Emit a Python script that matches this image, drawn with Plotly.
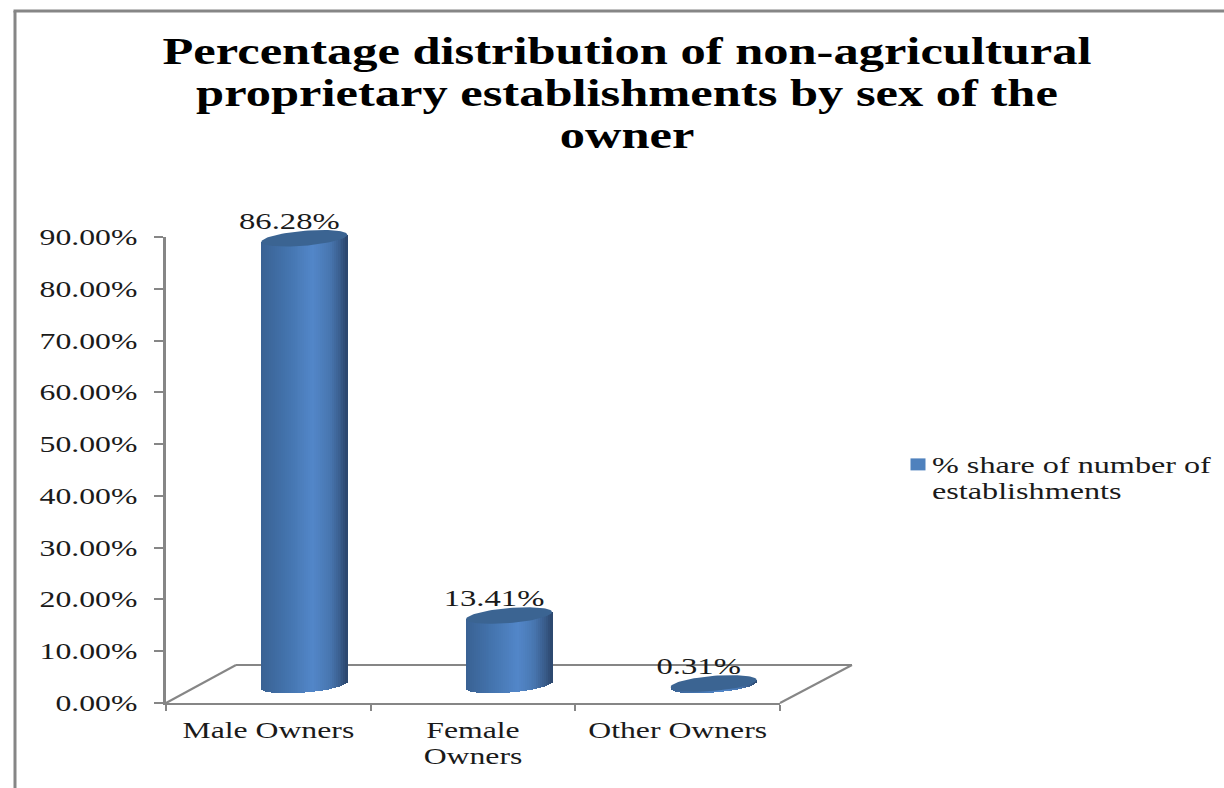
import numpy as np
import plotly.graph_objects as go

categories = ["Male Owners", "Female<br>Owners", "Other Owners"]
values = [86.28, 13.41, 0.31]
value_labels = ["86.28%", "13.41%", "0.31%"]
series_name = "% share of number of<br>establishments"
title_text = ("Percentage distribution of non-agricultural<br>"
              "proprietary establishments by sex of the<br>owner")

W, H = 1224, 788
FONT = "Liberation Serif"
GREY = "#868686"

# plot geometry in pixels
X0, X1, Y0, Y90 = 166, 780, 703, 237
DX, DY = 36, 18           # depth shift of the cylinders
px_per_pct = (Y0 - Y90) / 90
px_per_cat = (X1 - X0) / 3
half_w = 43 / px_per_cat
ell_b, ell_tilt = 7.5, 3.5
Y2_MIN = -10


def shade(u):
    stops = [(0, (58, 98, 148)), (0.3, (68, 116, 174)), (0.6, (83, 135, 201)),
             (0.8, (72, 118, 176)), (0.93, (56, 90, 136)), (1, (44, 70, 108))]
    for (a, ca), (b, cb) in zip(stops, stops[1:]):
        if u <= b:
            t = (u - a) / (b - a)
            return "rgb(%d,%d,%d)" % tuple(ca[i] + (cb[i] - ca[i]) * t for i in range(3))
    return "rgb(44,70,108)"


fig = go.Figure()

# primary axes carry the ticks and the legend entry
fig.add_trace(go.Bar(x=categories, y=[None] * 3, name=series_name, xaxis="x", yaxis="y",
                     marker=dict(color="#4f81bd", line=dict(width=0)), showlegend=True,
                     hoverinfo="skip"))

# cylinder bodies: narrow vertical strips with a shaded colour
N = 44
step = 2 * half_w / N
for k in range(N):
    u = (k + 0.5) / N
    s = 2 * u - 1
    low = (ell_b * np.sqrt(max(0, 1 - s * s)) - ell_tilt * s) / px_per_pct
    high = (ell_tilt * s) / px_per_pct
    xs = list(range(len(values)))
    fig.add_trace(go.Bar(x=xs, y=[v + high + low for v in values], base=[-low] * len(values),
                         width=[step * 1.4] * len(values),
                         offset=[-half_w + k * step] * len(values),
                         marker=dict(color=shade(u), line=dict(width=0)),
                         xaxis="x2", yaxis="y2", showlegend=False, hoverinfo="skip"))

# cylinder tops
t = np.linspace(0, 2 * np.pi, 90)
for i, v in enumerate(values):
    fig.add_trace(go.Scatter(
        x=i + half_w * np.cos(t),
        y=v + (ell_b * np.sin(t) + ell_tilt * np.cos(t)) / px_per_pct,
        mode="lines", fill="toself", fillcolor="#3b6492", line=dict(width=0, color="#3b6492"),
        xaxis="x2", yaxis="y2", showlegend=False, hoverinfo="skip"))

# data labels
fig.add_trace(go.Scatter(
    x=[i - 15 / px_per_cat for i in range(len(values))],
    y=[v + 4 / px_per_pct for v in values], text=value_labels,
    mode="text", textposition="top center", cliponaxis=False,
    textfont=dict(family=FONT, size=23, color="#1a1a1a"),
    xaxis="x2", yaxis="y2", showlegend=False, hoverinfo="skip"))


def line(a, b, width=2):
    return dict(type="line", xref="paper", yref="paper", x0=a[0] / W, y0=1 - a[1] / H,
                x1=b[0] / W, y1=1 - b[1] / H, line=dict(color=GREY, width=width), layer="below")


shapes = [
    line((X0, Y0), (236, 665)), line((236, 665), (852, 665)), line((852, 665), (X1, Y0)),
    line((13.5, 11), (W, 11), 3), line((15, 11), (15, H), 3),
]

fig.update_layout(
    width=W, height=H, margin=dict(l=0, r=0, t=0, b=0, autoexpand=False), autosize=False,
    paper_bgcolor="white", plot_bgcolor="rgba(0,0,0,0)",
    barmode="overlay", bargap=0, shapes=shapes,
    font=dict(family=FONT, size=23, color="#1a1a1a"),
    title=dict(text=title_text, x=627 / W, xanchor="center", y=1 - 64.5 / H, yanchor="top",
               font=dict(family=FONT, size=37, color="#000000", weight="bold")),
    xaxis=dict(domain=[X0 / W, X1 / W], anchor="y", type="category", categoryorder="array",
               categoryarray=categories, tickson="boundaries", ticks="outside", ticklen=6,
               tickwidth=2, tickcolor=GREY, showline=True, linecolor=GREY, linewidth=2,
               showgrid=False, zeroline=False, tickfont=dict(family=FONT, size=23, color="#1a1a1a"),
               tickangle=0, ticklabelstandoff=5),
    yaxis=dict(domain=[1 - Y0 / H, 1 - Y90 / H], anchor="x", range=[0, 90], tick0=0, dtick=10,
               tickformat=".2f", ticksuffix="%", ticks="outside", ticklen=9, tickwidth=2,
               tickcolor=GREY, showline=True, linecolor=GREY, linewidth=3, showgrid=False,
               zeroline=False, tickfont=dict(family=FONT, size=23, color="#1a1a1a"),
               ticklabelstandoff=12),
    xaxis2=dict(domain=[(X0 + DX) / W, (X1 + DX) / W], anchor="y2", range=[-0.5, 2.5],
                visible=False),
    yaxis2=dict(domain=[1 - (Y0 - DY - Y2_MIN * px_per_pct) / H, 1 - (Y90 - DY) / H], anchor="x2",
                range=[Y2_MIN, 90], visible=False),
    legend=dict(x=892 / W, y=1 - 443 / H, xanchor="left", yanchor="top",
                bgcolor="rgba(0,0,0,0)", font=dict(family=FONT, size=23, color="#1a1a1a"),
                tracegroupgap=0, itemwidth=30),
)

# The reference is a horizontally stretched picture: widen text and tighten the line spacing.
post = """
document.body.style.margin = '0';
function stretch(sel, sx, mode) {
  document.querySelectorAll(sel).forEach(function (el) {
    el.querySelectorAll('tspan.line').forEach(function (t) {
      var d = parseFloat(t.getAttribute('dy'));
      if (d) t.setAttribute('dy', (d * 0.87) + 'em');
    });
    var b = el.getBBox();
    var ax = mode === 'r' ? b.x + b.width : (mode === 'l' ? b.x : b.x + b.width / 2);
    var old = el.getAttribute('transform') || '';
    el.setAttribute('transform', old + ' translate(' + ax + ',0) scale(' + sx + ',1) translate(' + (-ax) + ',0)');
  });
}
stretch('.gtitle', 1.365, 'c');
stretch('.xtick text', 1.38, 'c');
stretch('.ytick text', 1.38, 'r');
stretch('.legendtext', 1.4, 'l');
stretch('.textpoint text', 1.42, 'c');
document.querySelectorAll('.legend [clip-path]').forEach(function (e) { e.removeAttribute('clip-path'); });
document.querySelectorAll('.legend .legendpoints path').forEach(function (e) {
  e.setAttribute('transform', 'translate(26,-15) scale(1.25,1)');
});
"""
fig.write_html("out.html", post_script=post, config={"displayModeBar": False})
